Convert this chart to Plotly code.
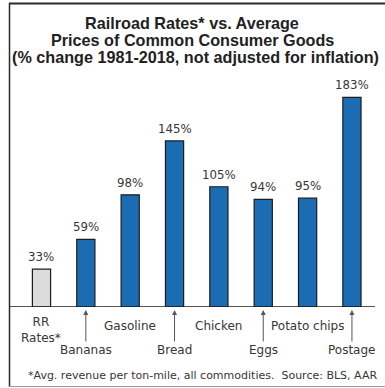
import plotly.graph_objects as go

# Percent change 1981-2018, not adjusted for inflation
categories = ["RR Rates*", "Bananas", "Gasoline", "Bread", "Chicken", "Eggs", "Potato chips", "Postage"]
pct_change = [33, 59, 98, 145, 105, 94, 95, 183]
# Label rows: 0 = directly under the axis, 1 = lower row with an arrow pointing up
label_row = [0, 1, 0, 1, 0, 1, 0, 1]
axis_labels = ["RR<br>Rates*", "Bananas", "Gasoline", "Bread", "Chicken", "Eggs", "Potato chips", "Postage"]

title_lines = [
    "Railroad Rates* vs. Average",
    "Prices of Common Consumer Goods",
    "(% change 1981-2018, not adjusted for inflation)",
]
footnote = "*Avg. revenue per ton-mile, all commodities.  Source: BLS, AAR"

W, H = 385, 388
ML, MR, MT, MB = 10, 10, 80, 81
PLOT_W = W - ML - MR
PLOT_H = H - MT - MB
Y_MAX = PLOT_H / 1.145

FONT = "DejaVu Sans, Liberation Sans, sans-serif"
TITLE_FONT = "Liberation Sans, Arial, sans-serif"
BLUE = "#1b6db3"
GREY_BAR = "#dcdcdc"
EDGE = "#1c1c1c"
TEXT = "#363636"

x_idx = list(range(len(categories)))
colors = [GREY_BAR] + [BLUE] * (len(categories) - 1)

fig = go.Figure(go.Bar(
    x=x_idx, y=pct_change, width=0.41,
    marker=dict(color=colors, line=dict(color=EDGE, width=1.2)),
    hoverinfo="skip",
))


def px_x(px):
    return (px - ML) / PLOT_W


def px_y(py):
    return (H - MB - py) / PLOT_H


annotations = []
# value labels above each bar
for i, v in zip(x_idx, pct_change):
    annotations.append(dict(
        x=i, y=v, xref="x", yref="y", text=f"{v}%", showarrow=False,
        yanchor="bottom", yshift=3,
        font=dict(family=FONT, size=11.8, color=TEXT),
    ))
# category labels, staggered in two rows
for i, lab, row in zip(x_idx, axis_labels, label_row):
    if row == 0:
        annotations.append(dict(
            x=i, y=0, xref="x", yref="y", text=lab, showarrow=False,
            yanchor="top", yshift=-6 if "<br>" in lab else -10,
            font=dict(family=FONT, size=12, color=TEXT),
        ))
    else:
        annotations.append(dict(
            x=i, y=0, xref="x", yref="y", text=lab, showarrow=True,
            ax=0, ay=43, axref="pixel", ayref="pixel",
            arrowhead=2, arrowsize=1, arrowwidth=1, arrowcolor="#555555",
            standoff=3,
            font=dict(family=FONT, size=12, color=TEXT),
        ))

# title
for line, cx, cy, size in zip(title_lines, [192, 192, 195.5], [23, 40, 57], [16.2, 16.2, 16.2]):
    annotations.append(dict(
        x=px_x(cx), y=px_y(cy), xref="paper", yref="paper", text=f"<b>{line}</b>",
        showarrow=False, xanchor="center", yanchor="middle",
        font=dict(family=TITLE_FONT, size=size, color="#222222"),
    ))
# footnote
annotations.append(dict(
    x=px_x(26), y=px_y(375), xref="paper", yref="paper", text=footnote,
    showarrow=False, xanchor="left", yanchor="middle",
    font=dict(family=FONT, size=11, color=TEXT),
))

shapes = [
    # baseline
    dict(type="line", xref="paper", yref="y", x0=px_x(10), x1=px_x(375), y0=0, y1=0,
         line=dict(color=EDGE, width=1.5)),
    # frame around the chart
    dict(type="line", xref="paper", yref="paper", x0=px_x(9), x1=px_x(390), y0=px_y(3.5), y1=px_y(3.5),
         line=dict(color="#2a2a2a", width=2)),
    dict(type="line", xref="paper", yref="paper", x0=px_x(9.5), x1=px_x(9.5), y0=px_y(3), y1=px_y(387),
         line=dict(color="#2a2a2a", width=1.5)),
    dict(type="line", xref="paper", yref="paper", x0=px_x(9), x1=px_x(390), y0=px_y(386.5), y1=px_y(386.5),
         line=dict(color="#9a9a9a", width=1)),
]

fig.update_layout(
    width=W, height=H,
    margin=dict(l=ML, r=MR, t=MT, b=MB),
    paper_bgcolor="white", plot_bgcolor="white",
    showlegend=False,
    xaxis=dict(range=[-0.71, 7.52], visible=False, fixedrange=True),
    yaxis=dict(range=[0, Y_MAX], visible=False, fixedrange=True),
    annotations=annotations,
    shapes=shapes,
)

fig.write_html("out.html")
